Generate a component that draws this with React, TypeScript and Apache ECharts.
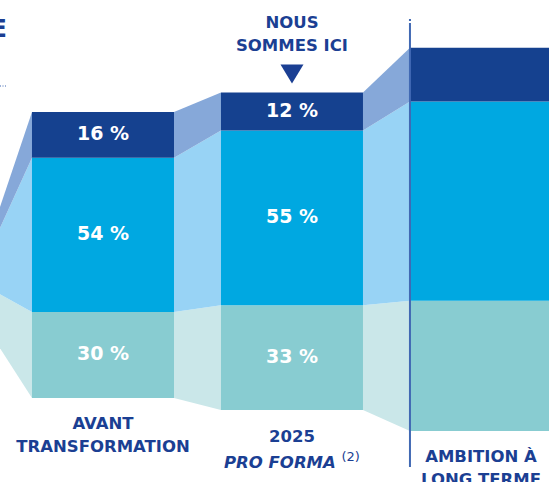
import React, { useEffect, useRef } from "react";
import * as echarts from "echarts";

// index 0 is the preceding bar, off-screen to the left (only its ribbons show)
const categoryLabels = ["", "AVANT\nTRANSFORMATION", "{b|2025}\n{i|PRO FORMA} {s|(2)}", "AMBITION À\nLONG TERME"];
const darkShare = [13, 16, 12, 14];
const midShare = [34, 54, 55, 52];
const tealShare = [53, 30, 33, 34];
const barTotals = [25.7, 100, 111, 134];
const barBases = [54.9, 29.4, 25.2, 17.8];
const showValues = [false, true, true, false];
const markerText = "NOUS\nSOMMES ICI";
const markerIndex = 2;
const dividerIndex = 3;

const BAR_COLORS = ["#88CCD1", "#00A8E1", "#15418F"]; // bottom -> top
const RIBBON_COLORS = ["#CAE7E9", "#98D3F5", "#86A8D9"];
const NAVY = "#1B3F93";
const FONT = "'DejaVu Sans', sans-serif";
const HALF_W = 0.3757;

function bounds(i: number) {
  const base = barBases[i];
  const tot = barTotals[i];
  const b0 = base;
  const b1 = b0 + (tot * tealShare[i]) / 100;
  const b2 = b1 + (tot * midShare[i]) / 100;
  const b3 = base + tot;
  return [b0, b1, b2, b3];
}

export default function App() {
  const ref = useRef<HTMLDivElement>(null);
  useEffect(() => {
    if (!ref.current) return;
    const chart = echarts.init(ref.current, null, { renderer: "svg" });
    const data = categoryLabels.map((_, i) => [i, barBases[i], barTotals[i]]);
    const renderItem = (params: any, api: any) => {
      const i = api.value(0);
      const children: any[] = [];
      const b = bounds(i);
      const xl = api.coord([i - HALF_W, 0])[0];
      const xr = api.coord([i + HALF_W, 0])[0];
      const xc = api.coord([i, 0])[0];
      const py = b.map((v) => api.coord([i, v])[1]);
      if (i + 1 < categoryLabels.length) {
        const nb = bounds(i + 1);
        const nxl = api.coord([i + 1 - HALF_W, 0])[0];
        const npy = nb.map((v) => api.coord([i + 1, v])[1]);
        for (let s = 0; s < 3; s++) {
          children.push({
            type: "polygon",
            shape: { points: [[xr, py[s]], [nxl, npy[s]], [nxl, npy[s + 1]], [xr, py[s + 1]]] },
            style: { fill: RIBBON_COLORS[s] },
            z2: 1,
          });
        }
      }
      const shares = [tealShare[i], midShare[i], darkShare[i]];
      for (let s = 0; s < 3; s++) {
        children.push({
          type: "rect",
          shape: { x: xl, y: py[s + 1], width: xr - xl, height: py[s] - py[s + 1] },
          style: { fill: BAR_COLORS[s] },
          z2: 2,
        });
        if (showValues[i]) {
          children.push({
            type: "text",
            style: {
              text: shares[s] + " %",
              x: xc,
              y: (py[s] + py[s + 1]) / 2 - 2,
              align: "center",
              verticalAlign: "middle",
              fill: "#ffffff",
              fontFamily: FONT,
              fontWeight: "bold",
              fontSize: 19,
            },
            z2: 5,
          });
        }
      }
      if (categoryLabels[i]) {
        children.push({
          type: "text",
          style: {
            text: categoryLabels[i],
            x: xc,
            y: py[0] + 14,
            align: "center",
            verticalAlign: "top",
            fill: NAVY,
            fontFamily: FONT,
            fontWeight: "bold",
            fontSize: 16.5,
            lineHeight: 23,
            rich: {
              b: { fontFamily: FONT, fontWeight: "bold", fontSize: 16.5, lineHeight: 26, fill: NAVY },
              i: { fontFamily: FONT, fontWeight: "bold", fontStyle: "italic", fontSize: 16.5, lineHeight: 26, fill: NAVY },
              s: { fontFamily: FONT, fontWeight: "normal", fontSize: 13, lineHeight: 26, fill: NAVY, verticalAlign: "top", padding: [0, 0, 9, 0] },
            },
          },
          z2: 5,
        });
      }
      if (i === markerIndex) {
        children.push({
          type: "polygon",
          shape: { points: [[xc - 11.5, py[3] - 28], [xc + 11.5, py[3] - 28], [xc, py[3] - 9]] },
          style: { fill: NAVY },
        });
        children.push({
          type: "text",
          style: {
            text: markerText,
            x: xc,
            y: py[3] - 35,
            align: "center",
            verticalAlign: "bottom",
            fill: NAVY,
            fontFamily: FONT,
            fontWeight: "bold",
            fontSize: 16.5,
            lineHeight: 23,
          },
        });
      }
      if (i === dividerIndex) {
        children.push({
          type: "line",
          shape: { x1: xl, y1: 23, x2: xl, y2: 467 },
          style: { stroke: "#4169B3", lineWidth: 2 },
          z2: 6,
        });
        children.push({
          type: "rect",
          shape: { x: xl - 1, y: 19, width: 2, height: 2 },
          style: { fill: "#4169B3" },
          z2: 6,
        });
      }
      return { type: "group", children };
    };
    chart.setOption({
      animation: false,
      grid: { left: 0, right: 0, top: 0, bottom: 0 },
      xAxis: { type: "value", min: 0.455, max: 3.36, show: false },
      yAxis: { type: "value", min: 0, max: 168.53, show: false },
      graphic: [
        {
          type: "text",
          x: 7,
          y: 29,
          style: {
            text: "E",
            align: "right",
            verticalAlign: "middle",
            fill: NAVY,
            fontFamily: FONT,
            fontWeight: "bold",
            fontSize: 24,
          },
        },
        {
          type: "line",
          shape: { x1: 0, y1: 86, x2: 7, y2: 86 },
          style: { stroke: "#4169B3", lineWidth: 1, lineDash: [1, 1.5] },
        },
      ],
      series: [
        {
          type: "custom",
          renderItem,
          data,
          encode: { x: 0, y: 1 },
          clip: false,
          silent: true,
        },
      ],
    });
    return () => chart.dispose();
  }, []);
  return (
    <div
      ref={ref}
      style={{ position: "fixed", left: 0, top: 0, width: 549, height: 482, background: "#ffffff" }}
    />
  );
}
